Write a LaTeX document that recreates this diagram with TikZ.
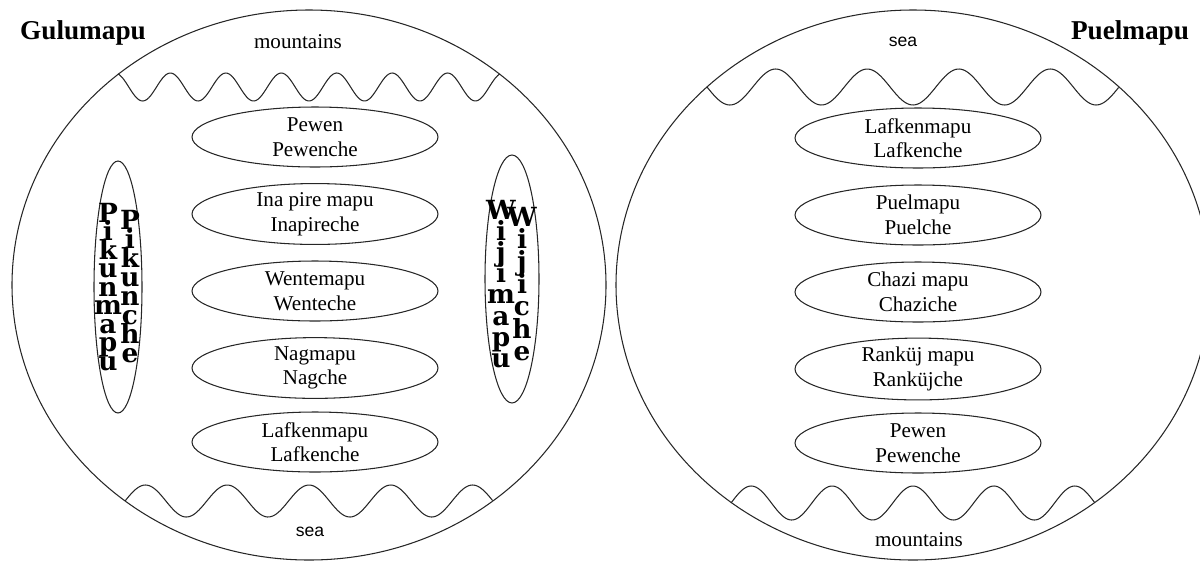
\documentclass[tikz,border=0pt]{standalone}
\usepackage{fontspec}
\setmainfont{Liberation Serif}
\setsansfont{Liberation Sans}
\newfontfamily\stackfont{DejaVu Serif}
\usetikzlibrary{shapes.geometric}
\tikzset{
  world/.style={draw=black!85,line width=0.6pt},               % big region
  tribe/.style={ellipse,draw=black!85,line width=0.6pt,minimum width=4.92cm,minimum height=1.2cm,
    inner sep=0pt,align=center,font=\fontsize{12}{14}\selectfont},% people ellipse
  side/.style={ellipse,draw=black!85,line width=0.6pt,inner sep=0pt},
  letter/.style={anchor=base,inner sep=0pt,font=\stackfont\bfseries\fontsize{15}{15}\selectfont},
  bigname/.style={font=\fontsize{15.5}{16}\selectfont\bfseries},
  place/.style={font=\fontsize{12}{14}\selectfont},
  seaname/.style={font=\sffamily\fontsize{10}{12}\selectfont},
  wave/.style={draw=black!85,line width=0.6pt},
}
\newcommand{\wavy}[6]{% x0, x1, y mid, amplitude, phase at x0, phase at x1
  \draw[wave] plot[domain=0:1,samples=200,smooth] ({#1+(#2-#1)*\x},{#3+#4*sin(#5+(#6-#5)*\x)});
}

\begin{document}
\begin{tikzpicture}[x=0.02cm,y=-0.02cm]
  \useasboundingbox (0,0) rectangle (1200,562);
  % Gulumapu
  \draw[world] (309,285) ellipse [x radius=297,y radius=275];
  \wavy{118}{500}{87}{14}{-70}{2410}
  \wavy{125}{493}{501}{16}{0}{-1620}
  \node[bigname] (gulu) at (83,33) {Gulumapu};
  \node[place] (mtnL) at (298,42) {mountains};
  \node[seaname] (seaL) at (310,532) {sea};
  \node[tribe] (pewL) at (315,137) {Pewen\\Pewenche};
  \node[tribe] (ina) at (315,214) {Ina pire mapu\\Inapireche};
  \node[tribe] (wente) at (315,291) {Wentemapu\\Wenteche};
  \node[tribe] (nag) at (315,368) {Nagmapu\\Nagche};
  \node[tribe] (lafL) at (315,442) {Lafkenmapu\\Lafkenche};
  \node[side,minimum width=0.96cm,minimum height=5.04cm] (pik) at (118,287) {};
  \foreach \c [count=\i from 0] in {P,i,k,u,n,m,a,p,u}
    \node[letter] (pka\i) at (108,{222+18.5*\i}) {\c};
  \foreach \c [count=\i from 0] in {P,i,k,u,n,c,h,e}
    \node[letter] (pkb\i) at (130,{229+19*\i}) {\c};
  \node[side,minimum width=1.08cm,minimum height=4.96cm] (wij) at (512,279) {};
  \foreach \c [count=\i from 0] in {W,i,j,i,m,a,p,u}
    \node[letter] (wja\i) at (501,{219+21.2*\i}) {\c};
  \foreach \c [count=\i from 0] in {W,i,j,i,c,h,e}
    \node[letter] (wjb\i) at (522,{226+22.4*\i}) {\c};
  % Puelmapu
  \draw[world] (913,285) ellipse [x radius=297,y radius=275];
  \wavy{707}{1119}{87}{18}{0}{1620}
  \wavy{731}{1095}{503}{17}{0}{-1620}
  \node[bigname] (puel) at (1130,33) {Puelmapu};
  \node[seaname] (seaR) at (903,42) {sea};
  \node[place] (mtnR) at (919,540) {mountains};
  \node[tribe] (lafR) at (918,138) {Lafkenmapu\\Lafkenche};
  \node[tribe] (puelche) at (918,215) {Puelmapu\\Puelche};
  \node[tribe] (chazi) at (918,292) {Chazi mapu\\Chaziche};
  \node[tribe] (rank) at (918,369) {Ranküj mapu\\Ranküjche};
  \node[tribe] (pewR) at (918,443) {Pewen\\Pewenche};
\end{tikzpicture}
\end{document}
